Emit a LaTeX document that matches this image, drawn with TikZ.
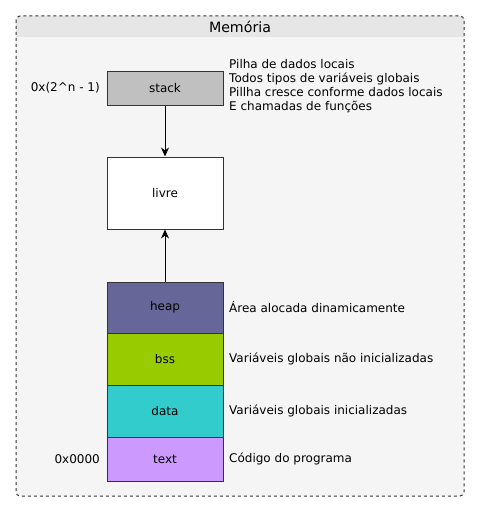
\documentclass[tikz,border=0pt]{standalone}
\usepackage{fontspec}
\setmainfont{DejaVu Sans}
\usepackage{tikz}
\usetikzlibrary{arrows.meta, positioning}

\definecolor{framebg}{HTML}{F5F5F5}
\definecolor{headbg}{HTML}{E6E6E6}
\definecolor{stackgray}{HTML}{C0C0C0}
\definecolor{heapcol}{HTML}{666699}
\definecolor{bsscol}{HTML}{99CC00}
\definecolor{datacol}{HTML}{33CCCC}
\definecolor{textcol}{HTML}{CC99FF}
\definecolor{edgecol}{HTML}{333333}

\begin{document}
\begin{tikzpicture}[
    x=1pt, y=-1pt,
    seg/.style={draw=edgecol, line width=1pt, minimum width=116pt, inner sep=0pt, font=\fontsize{12}{14}\selectfont},
    note/.style={anchor=west, inner sep=0pt, font=\fontsize{12}{14}\selectfont, align=left},
    addr/.style={anchor=east, inner sep=0pt, font=\fontsize{12}{14}\selectfont},
    growline/.style={-{Stealth[length=9pt, width=8pt]}, line width=1pt}
]
\useasboundingbox (0,0) rectangle (480,511);
% frame
\fill[framebg, rounded corners=4] (16,16) rectangle (464,496);
\fill[headbg] (16,37) [rounded corners=4] -- (16,16) -- (464,16) [sharp corners] -- (464,37) -- cycle;
\draw[edgecol, dashed, line width=1pt, rounded corners=4] (16,16) rectangle (464,496);
\node[font=\fontsize{14.2}{16}\selectfont] (title) at (240,26.5) {Memória};
% segments
\node[seg, fill=stackgray, minimum height=34pt] (stack) at (165,88)  {stack};
\node[seg, fill=white,     minimum height=72pt] (livre) at (165,193) {livre};
\node[seg, fill=heapcol,   minimum height=51pt] (heap)  at (165,307.5) {heap};
\node[seg, fill=bsscol,    minimum height=52pt] (bss)   at (165,359) {bss};
\node[seg, fill=datacol,   minimum height=52pt] (data)  at (165,411) {data};
\node[seg, fill=textcol,   minimum height=44pt] (text)  at (165,459) {text};
\draw[growline] (stack) -- (livre);
\draw[growline] (heap) -- (livre);
% addresses
\node[addr] (top)  at (100,88)  {0x(2\^{}n - 1)};
\node[addr] (base) at (100,459) {0x0000};
% notes
\node[note] (stacknote) at (229,86.5) {Pilha de dados locais\\Todos tipos de variáveis globais\\Pillha cresce conforme dados locais\\E chamadas de funções};
\node[note] (heapnote) at (229,307) {Área alocada dinamicamente};
\node[note] (bssnote)  at (229,359) {Variáveis globais não inicializadas};
\node[note] (datanote) at (229,411) {Variáveis globais inicializadas};
\node[note] (textnote) at (229,459) {Código do programa};
\end{tikzpicture}
\end{document}
